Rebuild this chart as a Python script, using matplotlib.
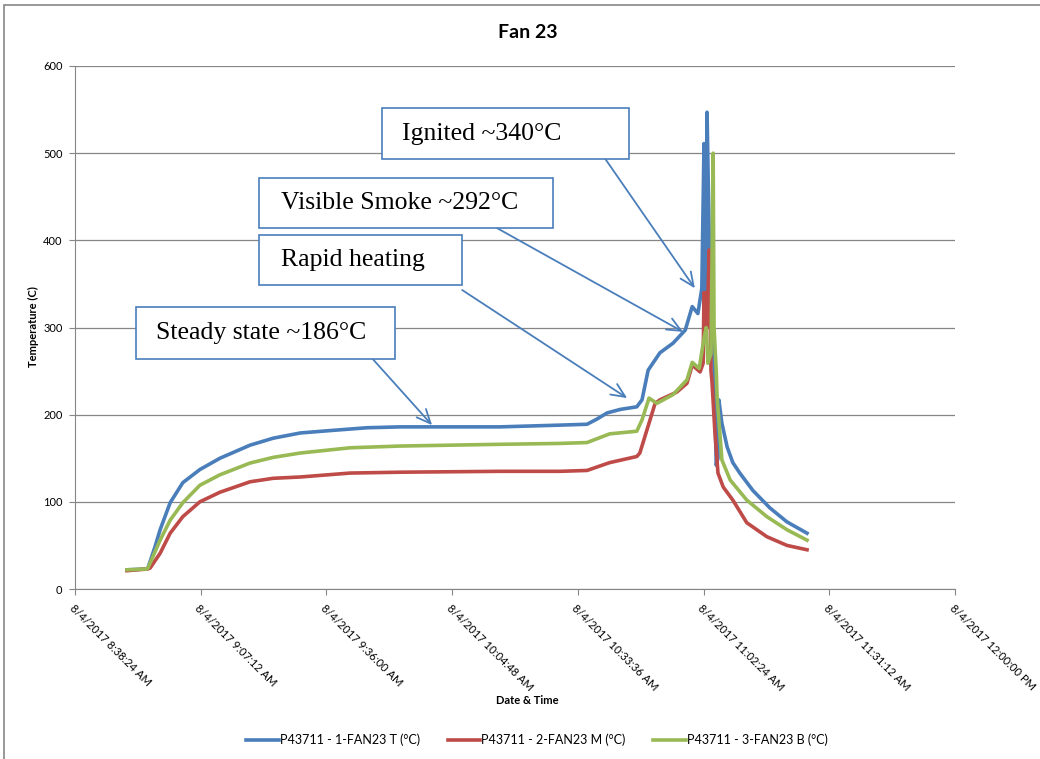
import datetime as dt
import matplotlib
matplotlib.use("Agg")
import matplotlib.pyplot as plt
import matplotlib.dates as mdates
from matplotlib.patches import Rectangle

# ---- data (minutes after 08:00 on 8/4/2017, temperature in °C) ----
t_blue = [50.3, 54.9, 55.1, 56.7, 57.9, 60.2, 63.1, 67.0, 71.6, 78.5, 83.8, 90.0, 97.5, 105.3,
          112.9, 124.3, 135.8, 149.5, 155.7, 158.0, 160.3, 163.3, 167.1, 168.3, 169.7, 172.4,
          175.4, 178.2, 179.8, 181.1, 182.0, 182.5, 182.7, 183.0, 183.2, 183.7, 184.1, 184.6,
          185.3, 185.7, 185.9, 186.6, 187.8, 189.1, 190.7, 193.7, 197.6, 201.5, 206.1]
v_blue = [22, 23, 24, 48, 68, 99, 122, 137, 150, 165, 173, 179, 182, 185,
          186, 186, 186, 188, 189, 195, 202, 206, 209, 217, 251, 271,
          282, 297, 324, 316, 345, 511, 300, 420, 547, 400, 330, 300,
          142, 150, 217, 190, 163, 145, 133, 113, 93, 77, 64]

t_red = [50.3, 55.1, 55.6, 57.9, 60.2, 63.1, 67.0, 71.6, 78.5, 83.8, 90.0, 101.4, 112.9, 135.8,
         149.5, 155.7, 160.9, 167.1, 167.8, 171.3, 172.4, 176.3, 178.6, 179.8, 181.6, 182.3,
         182.5, 182.7, 183.0, 183.2, 183.7, 184.1, 184.3, 185.0, 185.7, 186.9, 189.1, 192.3,
         196.9, 201.5, 206.1]
v_red = [21, 23, 24, 41, 64, 83, 100, 111, 123, 127, 128.5, 133, 134, 135,
         135, 136, 145, 152, 156, 213, 217, 226, 236, 257, 249, 259,
         340, 290, 340, 300, 389, 250, 240, 180, 133, 117, 102, 76,
         60, 50, 45]

t_green = [50.3, 54.9, 55.1, 57.9, 60.2, 63.1, 67.0, 71.6, 78.5, 83.8, 90.0, 101.4, 112.9, 135.8,
           149.5, 155.7, 160.9, 167.1, 168.3, 169.9, 171.7, 175.4, 178.6, 179.8, 181.4, 182.5,
           183.0, 183.4, 184.1, 184.6, 184.8, 185.3, 185.5, 186.6, 188.5, 192.3, 196.9, 201.5,
           206.1]
v_green = [22, 23, 24, 56, 79, 99, 119, 131, 144.5, 151, 156, 162, 164, 166,
           167, 168, 178, 181, 194, 219, 213, 223, 240, 260, 253, 288,
           300, 259, 270, 500, 300, 250, 220, 148, 125, 102, 83, 68,
           56]

series_names = ["P43711 - 1-FAN23 T (°C)", "P43711 - 2-FAN23 M (°C)", "P43711 - 3-FAN23 B (°C)"]
series_colors = ["#4A7EBB", "#BE4B48", "#98B954"]

tick_labels = ["8/4/2017 8:38:24 AM", "8/4/2017 9:07:12 AM", "8/4/2017 9:36:00 AM",
               "8/4/2017 10:04:48 AM", "8/4/2017 10:33:36 AM", "8/4/2017 11:02:24 AM",
               "8/4/2017 11:31:12 AM", "8/4/2017 12:00:00 PM"]
tick_minutes = [38.4, 67.2, 96.0, 124.8, 153.6, 182.4, 211.2, 240.0]

# annotations: text, arrow tip (minute, value), arrow start (minute, value)
notes = [
    ("Ignited ~340°C", (180.4, 345), (159.8, 494)),
    ("Visible Smoke ~292°C", (177.7, 295), (135.1, 414)),
    ("Rapid heating", (164.9, 219), (127.1, 343)),
    ("Steady state ~186°C", (120.2, 188), (106.4, 265)),
]
# box corners: (min left, min right, value bottom, value top) and text left (minute)
boxes = [(108.7, 165.3, 493.3, 551.8), (80.6, 147.9, 414.1, 471.5),
         (80.6, 127.1, 348.7, 406.1), (52.4, 111.7, 263.9, 323.5)]
text_left = [113.3, 85.6, 85.6, 57.0]

base = dt.datetime(2017, 8, 4, 8, 0, 0)
def tnum(m):
    return mdates.date2num(base + dt.timedelta(minutes=m))

plt.rcParams['font.family'] = ['Lato', 'DejaVu Sans']

fig = plt.figure(figsize=(10.4, 7.59), dpi=100)
ax = fig.add_axes([75/1040, 170/759, 880/1040, 523/759])

for t, v, name, c in zip([t_blue, t_red, t_green], [v_blue, v_red, v_green], series_names, series_colors):
    ax.plot([tnum(m) for m in t], v, color=c, lw=2.6, label=name, solid_joinstyle='round')

ax.set_ylim(0, 600)
ax.set_yticks(range(0, 601, 100))
ax.set_xlim(tnum(tick_minutes[0]), tnum(tick_minutes[-1]))
ax.set_xticks([tnum(m) for m in tick_minutes])
ax.set_xticklabels(tick_labels, rotation=-45, ha='left', va='top', rotation_mode='anchor', fontsize=8)
ax.tick_params(axis='y', labelsize=8, length=4, color='#868686', pad=5)
ax.tick_params(axis='x', length=4, color='#868686', pad=6)
ax.grid(axis='y', color='#868686', lw=0.9)
ax.set_axisbelow(True)
for s in ['top', 'right']:
    ax.spines[s].set_visible(False)
ax.spines['left'].set_color('#868686')
ax.spines['bottom'].set_color('#868686')

fig.text(528/1040, 1 - 32/759, "Fan 23", fontsize=14, fontweight='bold', ha='center', va='center')
fig.text(527/1040, 1 - 700/759, "Date & Time", fontsize=8, fontweight='bold', ha='center', va='center')
fig.text(33/1040, 1 - 327/759, "Temperature (C)", fontsize=8, fontweight='bold', ha='center',
         va='center', rotation=90)

for (txt, tip, start), (x0, x1, y0, y1), tl in zip(notes, boxes, text_left):
    ax.annotate("", xy=(tnum(tip[0]), tip[1]), xytext=(tnum(start[0]), start[1]),
                arrowprops=dict(arrowstyle='->,head_length=1.0,head_width=0.45', color='#4A7EBB', lw=1.3,
                                shrinkA=0, shrinkB=0))
    ax.add_patch(Rectangle((tnum(x0), y0), tnum(x1) - tnum(x0), y1 - y0, fc='white', ec='#4A7EBB',
                           lw=1.2, zorder=5))
    ax.text(tnum(tl), (y0 + y1) / 2, txt, family='Liberation Serif', fontsize=18.5,
            ha='left', va='center', zorder=6)

leg = fig.legend(loc='center', bbox_to_anchor=(537/1040, 1 - 740/759), ncol=3, frameon=False,
                 fontsize=9, handlelength=2.6, handletextpad=0.1, columnspacing=2.2)

fig.patches.append(Rectangle((4/1040, -0.05), 1.1, 1 - 5/759 + 0.05, transform=fig.transFigure,
                             fill=False, ec='#868686', lw=1.2))

fig.savefig("out.png", dpi=100)
